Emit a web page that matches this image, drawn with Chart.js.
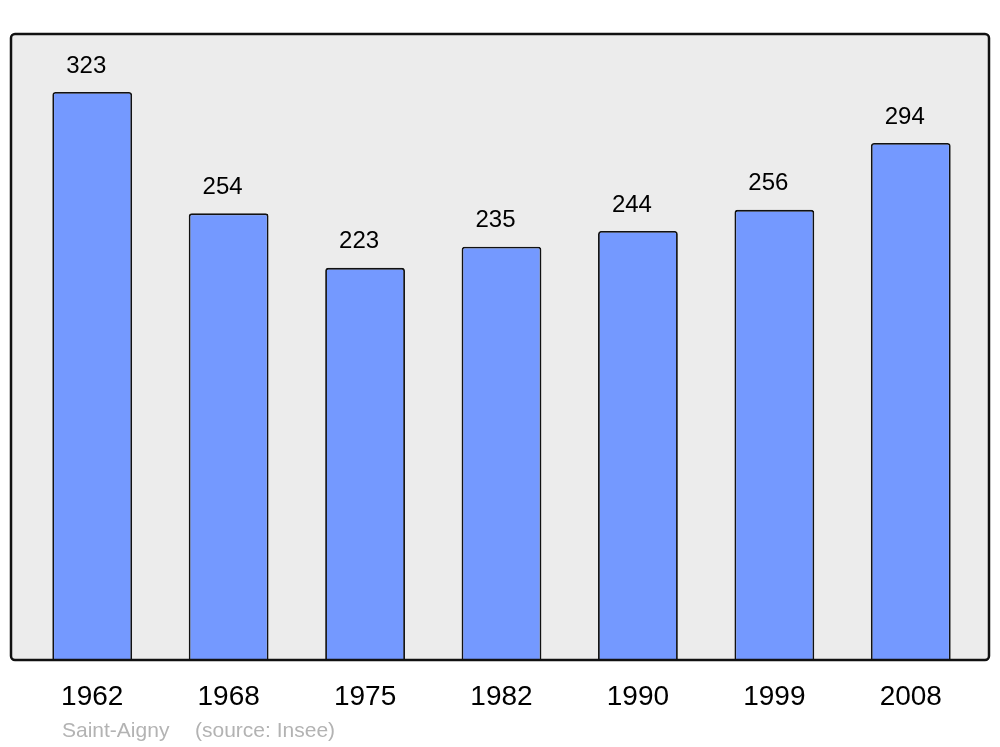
<!DOCTYPE html>
<html>
<head>
<meta charset="utf-8">
<script src="https://cdn.jsdelivr.net/npm/chart.js@4"></script>
<style>
  html, body { margin: 0; padding: 0; background: #fff; }
  #wrap { width: 1000px; height: 747px; }
</style>
</head>
<body>
<div id="wrap"><canvas id="popChart"></canvas></div>
<script>
// Population data (Saint-Aigny)
const years = ['1962', '1968', '1975', '1982', '1990', '1999', '2008'];
const population = [323, 254, 223, 235, 244, 256, 294];
const yMax = 356;
const footerText = ['Saint-Aigny', '(source: Insee)'];

// Grey panel with dark rounded frame behind the bars
const framePlugin = {
    id: 'frame',
    beforeDatasetsDraw(chart) {
        const a = chart.chartArea;
        const ctx = chart.ctx;
        ctx.save();
        ctx.beginPath();
        ctx.roundRect(a.left - 13, a.top, (a.right + 10) - (a.left - 13), a.bottom - a.top, 4);
        ctx.fillStyle = '#ececec';
        ctx.fill();
        ctx.restore();
    },
    afterDatasetsDraw(chart) {
        const a = chart.chartArea;
        const ctx = chart.ctx;
        ctx.save();

        // value labels above bars
        const meta = chart.getDatasetMeta(0);
        ctx.font = '24px "Liberation Sans", Arial, sans-serif';
        ctx.fillStyle = '#000';
        ctx.textAlign = 'center';
        ctx.textBaseline = 'middle';
        meta.data.forEach(function(bar, i) {
            ctx.fillText(String(population[i]), bar.x - 6, bar.y - 26);
        });

        // frame
        ctx.beginPath();
        ctx.roundRect(a.left - 13, a.top, (a.right + 10) - (a.left - 13), a.bottom - a.top, 4);
        ctx.lineWidth = 2.5;
        ctx.strokeStyle = '#111';
        ctx.stroke();

        // footer
        ctx.font = '21px "Liberation Sans", Arial, sans-serif';
        ctx.fillStyle = '#b3b3b3';
        ctx.textAlign = 'left';
        ctx.fillText(footerText[0], 62, 731);
        ctx.fillText(footerText[1], 195, 731);
        ctx.restore();
    }
};

const ctx = document.getElementById('popChart');
new Chart(ctx, {
    type: 'bar',
    data: {
        labels: years,
        datasets: [{
            data: population,
            backgroundColor: '#7499ff',
            borderColor: '#111',
            borderWidth: 1.8,
            borderRadius: { topLeft: 3, topRight: 3 },
            borderSkipped: 'start',
            categoryPercentage: 1,
            barPercentage: 0.585
        }]
    },
    options: {
        responsive: true,
        maintainAspectRatio: false,
        animation: false,
        layout: {
            padding: { left: 24, right: 21, top: 34, bottom: 0 }
        },
        plugins: {
            legend: { display: false },
            tooltip: { enabled: false }
        },
        scales: {
            x: {
                grid: { display: false, drawTicks: false, tickLength: 0 },
                border: { display: false },
                ticks: {
                    color: '#000',
                    padding: 20,
                    font: { family: '"Liberation Sans", Arial, sans-serif', size: 28 }
                },
                afterFit: function(scale) { scale.height = 87; }
            },
            y: {
                display: false,
                min: 0,
                max: yMax
            }
        }
    },
    plugins: [framePlugin]
});
</script>
</body>
</html>
